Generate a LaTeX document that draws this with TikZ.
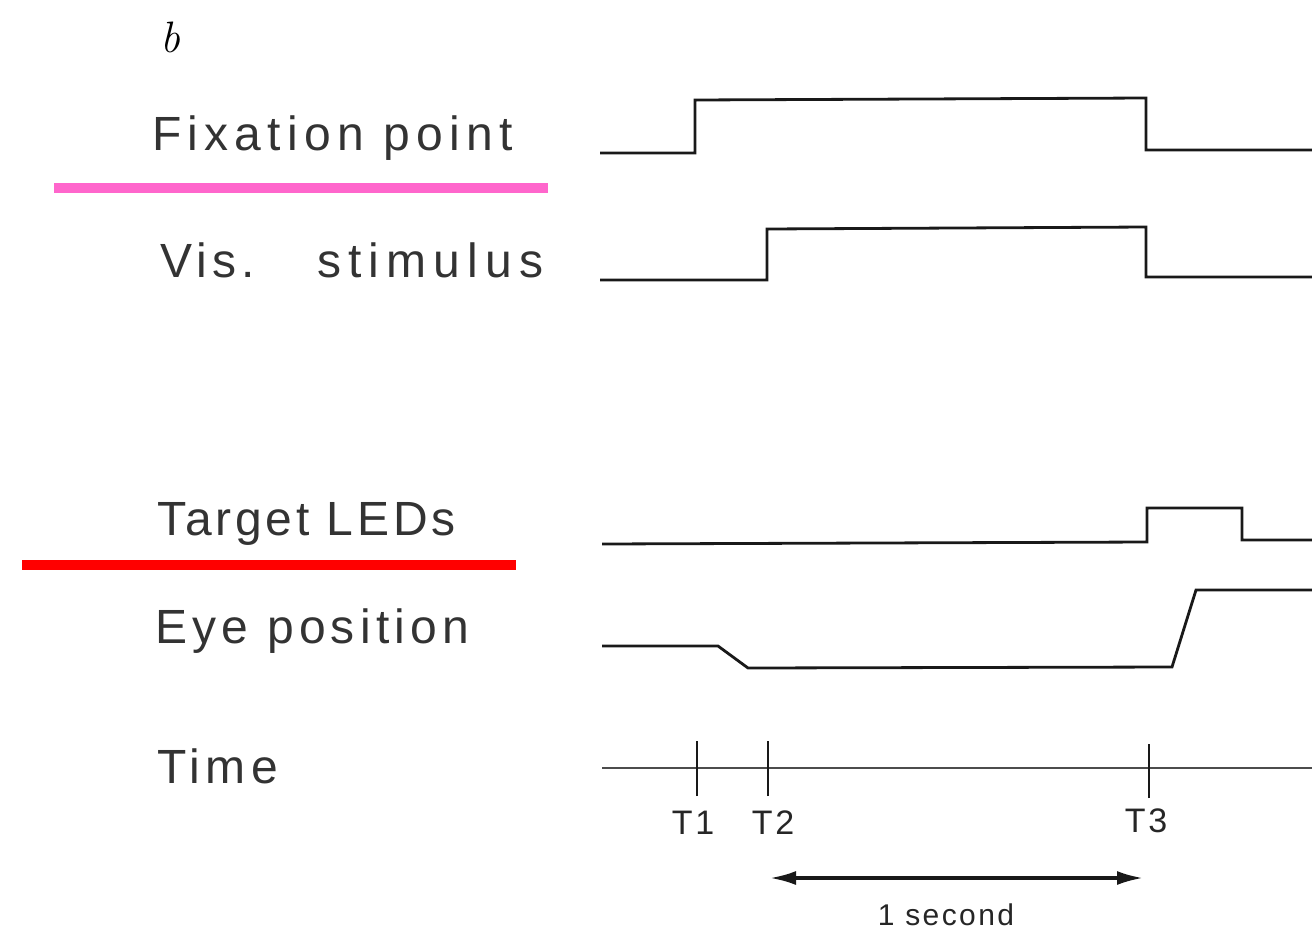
\documentclass[tikz,border=0pt]{standalone}
\usepackage{fontspec}
\usetikzlibrary{arrows.meta}
\newfontfamily\plotfont{Liberation Sans}[LetterSpace=11]
\newfontfamily\plotsmall{Liberation Sans}[LetterSpace=8]
\begin{document}
\begin{tikzpicture}[x=1pt,y=-1pt,
  rowlabel/.style={anchor=base west,inner sep=0pt,font=\plotfont\fontsize{48}{48}\selectfont,text=black!80},
  ticklabel/.style={anchor=base,inner sep=0pt,font=\plotsmall\fontsize{34}{34}\selectfont,text=black!85},
  trace/.style={line width=2.8pt,black!90,line join=miter},
  axis/.style={line width=2pt,black!70},
  tick/.style={line width=2.6pt,black!90},
  mark bar/.style={line width=10pt}]
\useasboundingbox (0,0) rectangle (1312,930);

% panel letter
\node[anchor=base west,inner sep=0pt,font=\itshape\fontsize{44}{44}\selectfont] (panel) at (160,52) {b};

% row labels
\node[rowlabel] (fix) at (152,150) {\addfontfeature{LetterSpace=13}Fixation point};
\node[rowlabel] (vis) at (160,277) {Vis.\hspace{62pt}\addfontfeature{LetterSpace=15}stimulus};
\node[rowlabel] (tgt) at (157,535) {\addfontfeature{LetterSpace=8}Target LEDs};
\node[rowlabel] (eye) at (155,643) {Eye position};
\node[rowlabel] (time) at (157,783) {Time};

% coloured underlines
\draw[mark bar,color={rgb,255:red,255;green,102;blue,204}] (54,188) -- (548,188);
\draw[mark bar,color=red] (22,565) -- (516,565);

% stimulus traces
\draw[trace] (600,153) -- (695,153) -- (695,100) -- (1146,98) -- (1146,150) -- (1312,150);
\draw[trace] (600,280) -- (767,280) -- (767,229) -- (1146,227) -- (1146,277) -- (1312,277);
\draw[trace] (602,544) -- (1147,542) -- (1147,508) -- (1242,508) -- (1242,540) -- (1312,540);
\draw[trace] (602,646) -- (718,646) -- (748,668) -- (1172,667) -- (1196,590) -- (1312,590);

% time axis with event ticks
\draw[axis] (602,768) -- (1312,768);
\coordinate (t1) at (697,768);
\coordinate (t2) at (768,768);
\coordinate (t3) at (1149,768);
\draw[tick] ([yshift=-28pt]t1) -- ([yshift=27pt]t1);
\draw[tick] ([yshift=-28pt]t2) -- ([yshift=27pt]t2);
\draw[tick] ([yshift=-30pt]t3) -- ([yshift=24pt]t3);
\node[ticklabel] (l1) at (693,834) {T1};
\node[ticklabel] (l2) at (773,834) {T2};
\node[ticklabel] (l3) at (1146,832) {T3};

% one-second scale bar
\coordinate (s0) at (770,878);
\coordinate (s1) at (1143,878);
\draw[line width=3.2pt,black!90,{Latex[length=26pt,width=14pt]}-{Latex[length=26pt,width=14pt]}] (s0) -- (s1);
\node[ticklabel,font=\plotsmall\fontsize{30}{30}\selectfont] (sec) at (946,925) {1 second};
\end{tikzpicture}
\end{document}
